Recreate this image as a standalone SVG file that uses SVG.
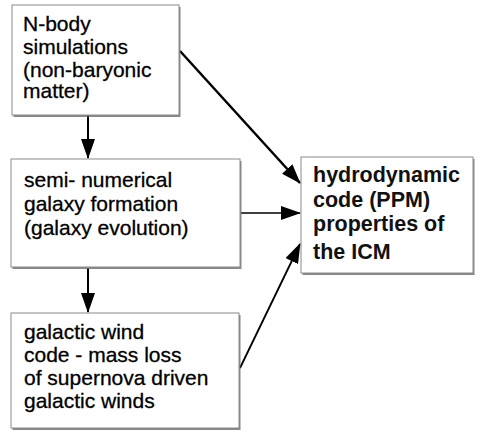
<svg xmlns="http://www.w3.org/2000/svg" width="480" height="437" viewBox="0 0 480 437">
<style>
.shadow{fill:#6a6a6a;opacity:0.8}
.box{fill:#ffffff;stroke:#8a8a8a;stroke-width:1}
.t{font-family:"Liberation Sans",Arial,sans-serif;font-size:21px;fill:#000;stroke:#000;stroke-width:0.3}
.tb{font-family:"Liberation Sans",Arial,sans-serif;font-size:21.5px;font-weight:bold;fill:#111}
.c{stroke:#000;fill:none}
</style>
<defs>
<marker id="ahb" markerWidth="20" markerHeight="14" refX="19" refY="7" orient="auto" markerUnits="userSpaceOnUse">
<path d="M0,0 L20,7 L0,14 Z" fill="#000"/>
</marker>
</defs>
<rect width="480" height="437" fill="#fff"/>
<g id="connectors">
<line class="c" x1="88" y1="115" x2="88" y2="158" stroke-width="2" marker-end="url(#ahb)"/>
<line class="c" x1="88" y1="268" x2="88" y2="312" stroke-width="2" marker-end="url(#ahb)"/>
<line class="c" x1="180" y1="51" x2="300" y2="183" stroke-width="2.5" marker-end="url(#ahb)"/>
<line class="c" x1="241" y1="213" x2="300" y2="213" stroke-width="1.6" marker-end="url(#ahb)"/>
<line class="c" x1="240" y1="368" x2="300" y2="244" stroke-width="1.8" marker-end="url(#ahb)"/>
</g>
<g id="n-body">
<rect class="shadow" x="13.5" y="7" width="167" height="110"/>
<rect class="box" x="12" y="5" width="167" height="110"/>
<text class="t" x="23" y="30.5">N-body</text>
<text class="t" x="23" y="54">simulations</text>
<text class="t" x="23" y="76.5">(non-baryonic</text>
<text class="t" x="23" y="97.5">matter)</text>
</g>
<g id="semi-numerical">
<rect class="shadow" x="12.5" y="161" width="229" height="108"/>
<rect class="box" x="11" y="159" width="229" height="108"/>
<text class="t" x="24" y="187">semi- numerical</text>
<text class="t" x="24" y="211">galaxy formation</text>
<text class="t" x="24" y="235">(galaxy evolution)</text>
</g>
<g id="galactic-wind">
<rect class="shadow" x="12.5" y="315" width="228" height="115"/>
<rect class="box" x="11" y="313" width="228" height="115"/>
<text class="t" x="24" y="339">galactic wind</text>
<text class="t" x="24" y="362">code - mass loss</text>
<text class="t" x="24" y="385">of supernova driven</text>
<text class="t" x="24" y="408">galactic winds</text>
</g>
<g id="hydrodynamic">
<rect class="shadow" x="302.5" y="159" width="172" height="116"/>
<rect class="box" x="301" y="157" width="172" height="116"/>
<text class="tb" x="313" y="182">hydrodynamic</text>
<text class="tb" x="313" y="207">code (PPM)</text>
<text class="tb" x="313" y="231">properties of</text>
<text class="tb" x="313" y="259">the ICM</text>
</g>
</svg>
